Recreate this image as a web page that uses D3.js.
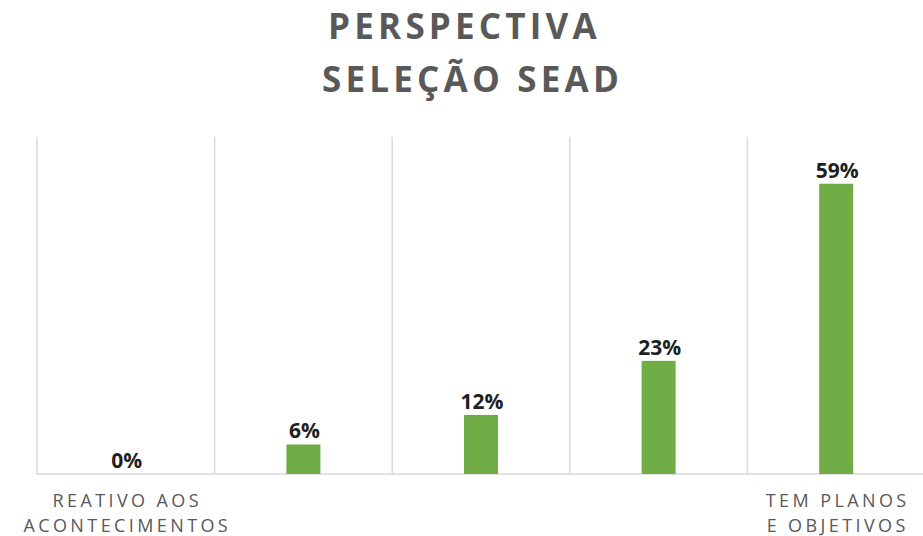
<!DOCTYPE html>
<html>
<head>
<meta charset="utf-8">
<script src="https://cdn.jsdelivr.net/npm/d3@7"></script>
<style>
  html, body { margin: 0; padding: 0; background: #ffffff; }
  svg { display: block; }
</style>
</head>
<body>
<svg id="chart" width="923" height="536"></svg>
<script>
// Chart data
const titleLines = ["PERSPECTIVA", "SELEÇÃO SEAD"];
const categories = [
  ["REATIVO AOS", "ACONTECIMENTOS"],
  [],
  [],
  [],
  ["TEM PLANOS", "E OBJETIVOS"]
];
const values = [0, 6, 12, 23, 59];
const valueLabels = ["0%", "6%", "12%", "23%", "59%"];
const yMax = 68.5;

const width = 923, height = 536;
const margin = { top: 137, right: -2, bottom: 62, left: 37 };

const svg = d3.select("#chart");

const x = d3.scaleBand()
  .domain(d3.range(values.length))
  .range([margin.left, width - margin.right])
  .paddingInner(0)
  .paddingOuter(0);

const y = d3.scaleLinear()
  .domain([0, yMax])
  .range([height - margin.bottom, margin.top]);

const barW = 34;

// Title, two centred lines
const titleShift = [3, 11];
const title = svg.append("text")
  .attr("text-anchor", "middle")
  .attr("font-family", "'Open Sans', sans-serif")
  .attr("font-weight", 700)
  .attr("font-size", 35)
  .attr("letter-spacing", 4.2)
  .attr("fill", "#595959");
title.selectAll("tspan")
  .data(titleLines)
  .join("tspan")
  .attr("x", (d, i) => width / 2 + titleShift[i])
  .attr("y", (d, i) => 39 + i * 53)
  .text(d => d);

// Vertical category separators
const sepPositions = d3.range(values.length + 1).map(i =>
  i < values.length ? x(i) : x(values.length - 1) + x.bandwidth());
svg.append("g")
  .selectAll("line")
  .data(sepPositions)
  .join("line")
  .attr("x1", d => d).attr("x2", d => d)
  .attr("y1", margin.top)
  .attr("y2", y(0))
  .attr("stroke", "#d9d9d9")
  .attr("stroke-width", 1.5);

// Category axis line
svg.append("line")
  .attr("x1", margin.left)
  .attr("x2", width)
  .attr("y1", y(0))
  .attr("y2", y(0))
  .attr("stroke", "#d9d9d9")
  .attr("stroke-width", 1.5);

// Bars
svg.append("g")
  .selectAll("rect")
  .data(values)
  .join("rect")
  .attr("x", (d, i) => x(i) + x.bandwidth() / 2 - barW / 2)
  .attr("y", d => y(d))
  .attr("width", barW)
  .attr("height", d => y(0) - y(d))
  .attr("fill", "#70ad47");

// Value labels
svg.append("g")
  .selectAll("text")
  .data(values)
  .join("text")
  .attr("x", (d, i) => x(i) + x.bandwidth() / 2 + 1)
  .attr("y", d => y(d) - 6)
  .attr("text-anchor", "middle")
  .attr("font-family", "'Open Sans', sans-serif")
  .attr("font-weight", 700)
  .attr("font-size", 21)
  .attr("fill", "#1f1f1f")
  .text((d, i) => valueLabels[i]);

// Category labels
const catG = svg.append("g")
  .selectAll("text")
  .data(categories)
  .join("text")
  .attr("text-anchor", "middle")
  .attr("font-family", "'Open Sans', sans-serif")
  .attr("font-size", 18)
  .attr("letter-spacing", 3.4)
  .attr("fill", "#595959");
catG.selectAll("tspan")
  .data((d, i) => d.map(line => ({ line, i })))
  .join("tspan")
  .attr("x", d => x(d.i) + x.bandwidth() / 2 + 1.5)
  .attr("y", (d, j) => y(0) + 33 + j * 25)
  .text(d => d.line);
</script>
</body>
</html>
